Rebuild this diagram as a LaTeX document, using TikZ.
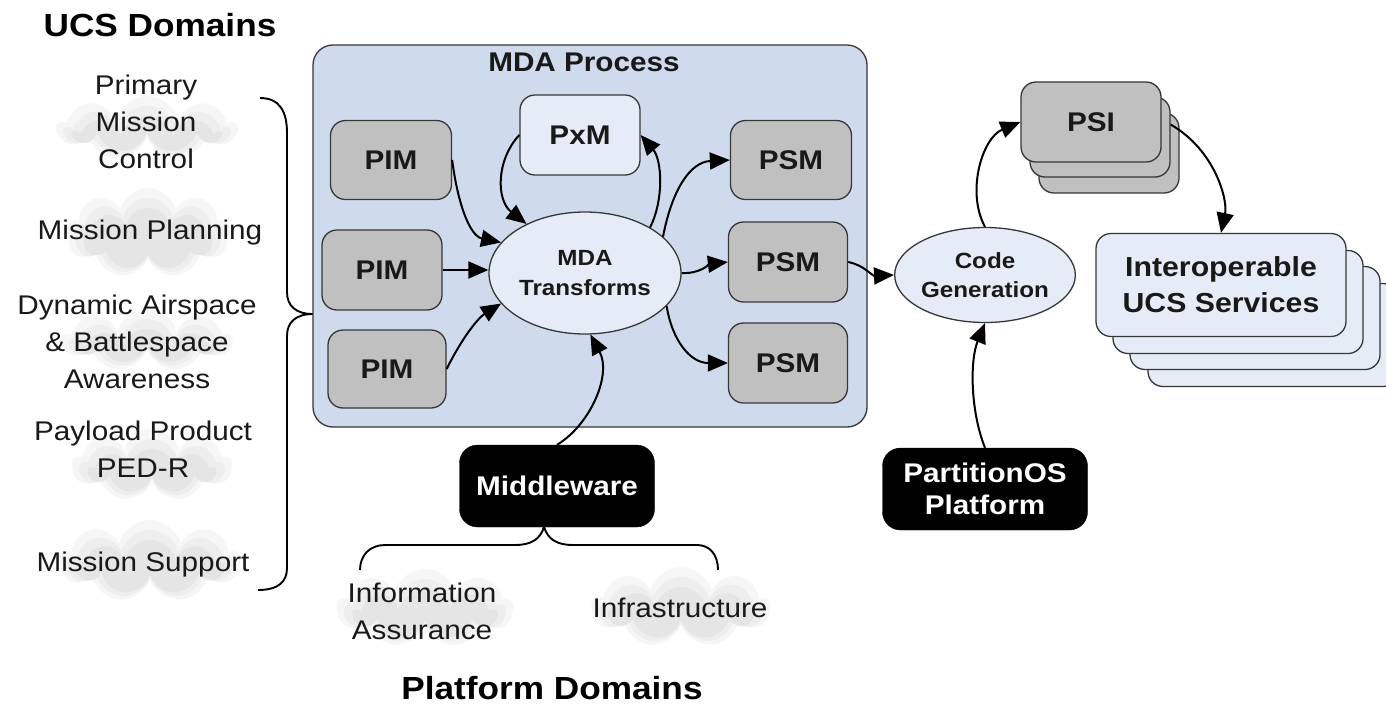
\documentclass[tikz,border=0pt]{standalone}
\usepackage{fontspec}
\setmainfont{Liberation Sans}[FakeStretch=1.1]
\usetikzlibrary{arrows.meta,shapes.geometric,shapes.symbols}
\definecolor{mdabg}{RGB}{207,219,237}
\definecolor{lightbl}{RGB}{230,236,247}
\definecolor{pimgr}{RGB}{192,192,192}
\definecolor{bord}{RGB}{55,55,55}
\definecolor{cloudA}{RGB}{246,246,246}
\definecolor{cloudB}{RGB}{238,238,238}
\definecolor{cloudC}{RGB}{229,229,229}
\definecolor{txt}{RGB}{25,25,25}
\tikzset{bigtip/.tip={Triangle[length=20pt,width=17pt]}}
\begin{document}
\begin{tikzpicture}[x=1pt,y=-1pt,
  box/.style={draw=bord, line width=1.3pt, rounded corners=15pt, inner sep=0pt,
    text=txt, font=\fontsize{27}{30}\selectfont\bfseries},
  graybox/.style={box, fill=pimgr, minimum width=120pt, minimum height=80pt},
  bluebox/.style={box, fill=lightbl, minimum width=120pt, minimum height=80pt},
  blackbox/.style={draw=black, fill=black, rounded corners=18pt, inner sep=0pt,
    text=white, align=center, font=\fontsize{27}{32}\selectfont\bfseries},
  ell/.style={ellipse, draw=bord, line width=1.3pt, fill=lightbl, inner sep=0pt,
    align=center, text=txt, font=\fontsize{22}{30}\selectfont\bfseries},
  lbl/.style={align=center, inner sep=0pt, text=txt, font=\fontsize{27}{37}\selectfont},
  title/.style={inner sep=0pt, text=black, font=\fontsize{32}{36}\selectfont\bfseries},
  cloudbase/.style={cloud, cloud puffs=9, cloud ignores aspect, draw=none, inner sep=0pt},
  conn/.style={line width=2pt, draw=black, arrows={-bigtip}},
  brace/.style={line width=1.9pt, black}
]
\useasboundingbox (0,0) rectangle (1386,705);
\fill[white] (0,0) rectangle (1386,705);

% ---------- clouds ----------
\foreach \n/\cx/\cy/\w/\h in {c1/147/128/178/64, c2/148/233/164/90, c3/147/340/168/62,
   c4/152/465/160/72, c5/150/561/180/82, c6/425/608/176/78, c7/681/607/178/80}{
  \node[cloudbase, fill=cloudA, minimum width=\w pt, minimum height=\h pt] (\n a) at (\cx,\cy) {};
  \node[cloudbase, fill=cloudB, minimum width=\w pt-16pt, minimum height=\h pt-14pt] (\n b) at (\cx,\cy+3) {};
  \node[cloudbase, fill=cloudC, minimum width=\w pt-34pt, minimum height=\h pt-28pt] (\n c) at (\cx,\cy+6) {};
}

% ---------- titles & labels ----------
\node[title] (ucs) at (160,25) {UCS Domains};
\node[title] (plat) at (552,688) {Platform Domains};
\node[lbl] (pmc) at (146,122) {Primary\\Mission\\Control};
\node[lbl] (mp) at (150,233) {Mission Planning};
\node[lbl] (dab) at (137,342) {Dynamic Airspace\\\& Battlespace\\Awareness};
\node[lbl] (ppp) at (143,449) {Payload Product\\PED-R};
\node[lbl] (ms) at (143,565) {Mission Support};
\node[lbl] (ia) at (422,611) {Information\\Assurance};
\node[lbl] (inf) at (680,608) {Infrastructure};

% ---------- left brace ----------
\coordinate (lb1) at (260,98);
\coordinate (lbtip) at (313,314);
\coordinate (lb2) at (258,590);
\draw[brace] (lb1) .. controls (280,98) and (287,112) .. (287,133) -- (287,292)
  .. controls (287,306) and (296,314) .. (lbtip)
  .. controls (296,314) and (287,322) .. (287,336) -- (287,568)
  .. controls (287,582) and (278,590) .. (lb2);

% ---------- MDA process ----------
\node[draw=bord, line width=1.3pt, fill=mdabg, rounded corners=20pt, inner sep=0pt,
  minimum width=554pt, minimum height=382pt] (mdabox) at (590,236) {};
\node[inner sep=0pt, text=txt, font=\fontsize{27}{30}\selectfont\bfseries] (mdat) at (584,62) {MDA Process};

\node[graybox, minimum width=121pt, minimum height=79pt] (pim1) at (391,160) {PIM};
\node[graybox] (pim2) at (382,270) {PIM};
\node[graybox, minimum width=118pt, minimum height=78pt] (pim3) at (387,369) {PIM};
\node[bluebox] (pxm) at (580,135) {PxM};
\node[graybox, minimum width=121pt, minimum height=79pt] (psm1) at (791,160) {PSM};
\node[graybox, minimum width=119pt] (psm2) at (788,262) {PSM};
\node[graybox, minimum width=119pt] (psm3) at (788,363) {PSM};
\node[ell, minimum width=192pt, minimum height=122pt] (mda) at (585,273) {MDA\\Transforms};

% ---------- code generation ----------
\node[ell, minimum width=180pt, minimum height=95pt, font=\fontsize{22}{29}\selectfont\bfseries] (cg) at (985,275) {Code\\Generation};

% ---------- PSI stack ----------
\node[graybox, minimum width=140pt, minimum height=80pt] (psic) at (1109,153) {};
\node[graybox, minimum width=140pt, minimum height=80pt] (psib) at (1100,137) {};
\node[graybox, minimum width=140pt, minimum height=80pt] (psi) at (1091,122) {PSI};

% ---------- interoperable stack ----------
\node[bluebox, minimum width=250pt, minimum height=103pt] (io4) at (1273,335) {};
\node[bluebox, minimum width=250pt, minimum height=103pt] (io3) at (1255,318) {};
\node[bluebox, minimum width=250pt, minimum height=103pt] (io2) at (1238,302) {};
\node[bluebox, minimum width=250pt, minimum height=103pt, align=center,
  font=\fontsize{27.5}{36}\selectfont\bfseries] (io) at (1221,285) {Interoperable\\UCS Services};

% ---------- black platform boxes ----------
\node[blackbox, minimum width=195pt, minimum height=82pt] (mw) at (557,486) {Middleware};
\node[blackbox, minimum width=205pt, minimum height=82pt] (pos) at (985,489) {PartitionOS\\Platform};

% ---------- connectors ----------
\draw[conn] (pim1.east) .. controls (458,205) and (470,236) .. (mda.160);
\draw[conn] (pim2.east) -- (pim2.east -| mda.west);
\draw[conn] (pim3.east) .. controls (462,338) and (478,318) .. (mda.200);
\draw[conn] (pxm.west) .. controls (496,160) and (496,200) .. (mda.140);
\draw[conn] (mda.35) .. controls (664,200) and (662,160) .. (pxm.east);
\draw[conn] (mda.25) .. controls (672,190) and (690,162) .. (psm1.west);
\draw[conn] (mda.east) .. controls (700,274) and (710,264) .. (psm2.west);
\draw[conn] (mda.-22) .. controls (672,340) and (690,363) .. (psm3.west);
\draw[conn] (psm2.east) .. controls (864,265) and (872,276) .. (cg.west);
\draw[conn] (cg.north) .. controls (966,192) and (982,138) .. (psi.west);
\draw[conn] (psib.10) .. controls (1215,150) and (1228,200) .. (io.north);
\draw[conn] (pos.north) .. controls (970,410) and (970,360) .. (cg.south);
\draw[conn] (mw.north) .. controls (590,425) and (612,375) .. (mda.-85);

% ---------- middleware brace ----------
\coordinate (mwj) at (544,527);
\coordinate (mwl) at (360,570);
\coordinate (mwr) at (718,570);
\draw[brace] (mwj) .. controls (540,540) and (530,545) .. (515,545) -- (385,545)
  .. controls (370,545) and (360,555) .. (mwl);
\draw[brace] (mwj) .. controls (548,540) and (558,545) .. (573,545) -- (697,545)
  .. controls (710,545) and (718,555) .. (mwr);
\end{tikzpicture}
\end{document}
